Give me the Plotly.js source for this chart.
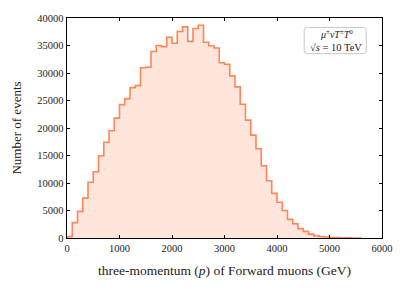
<!DOCTYPE html>
<html>
<head>
<meta charset="utf-8">
<script src="https://cdn.plot.ly/plotly-3.0.1.min.js"></script>
<style>html,body{margin:0;padding:0;background:#fff;}#chart{width:407px;height:291px;}</style>
</head>
<body>
<div id="chart"></div>
<script>
// Histogram bin lower edges (GeV), bin width 100 GeV
var binLow = [0,100,200,300,400,500,600,700,800,900,
  1000,1100,1200,1300,1400,1500,1600,1700,1800,1900,
  2000,2100,2200,2300,2400,2500,2600,2700,2800,2900,
  3000,3100,3200,3300,3400,3500,3600,3700,3800,3900,
  4000,4100,4200,4300,4400,4500,4600,4700,4800,4900,
  5000,5100,5200,5300,5400,5500];
var binWidth = 100;
var counts = [250,2800,4850,7250,10150,12050,14950,17400,19500,21800,
  24250,25350,27350,27700,30950,31050,33900,35000,34800,36500,
  35400,37550,38380,35750,38100,38680,35600,34950,34550,31870,
  31600,29480,27480,24330,21430,18700,16220,13130,10410,8110,
  6500,5000,3390,2580,1700,1200,700,420,280,180,
  100,60,30,15,8,4];
var xTicks = [0,1000,2000,3000,4000,5000,6000];
var yTicks = [0,5000,10000,15000,20000,25000,30000,35000,40000];
var legendLine1 = '<i>μ</i><sup>±</sup><i>νT</i><sup>±</sup><i>T</i><sup>0</sup>';
var legendLine2 = '√<i>s</i> = 10 TeV';
var xTitle = 'three-momentum (<i>p</i>) of Forward muons (GeV)';
var yTitle = 'Number of events';

// step outline: start at baseline, each bin's left edge, closing at last right edge
var sx = [0], sy = [0];
for (var i = 0; i < binLow.length; i++) { sx.push(binLow[i]); sy.push(counts[i]); }
sx.push(binLow[binLow.length-1] + binWidth); sy.push(counts[counts.length-1]);
sx.push(binLow[binLow.length-1] + binWidth); sy.push(0);

var FONT = 'Liberation Serif, DejaVu Serif, serif';
var trace = {
  x: sx, y: sy, type: 'scatter', mode: 'lines',
  line: {shape: 'hv', color: 'rgba(255,127,80,0.95)', width: 1.6},
  fill: 'tozeroy', fillcolor: 'rgba(255,127,80,0.2)',
  hoverinfo: 'skip'
};

// rounded legend box in paper coords
var bx0 = 0.753, bx1 = 0.950, by0 = 0.838, by1 = 0.957, rx = 0.010, ry = 0.014;
var boxPath = 'M ' + (bx0+rx) + ' ' + by1 + ' L ' + (bx1-rx) + ' ' + by1 +
  ' Q ' + bx1 + ' ' + by1 + ' ' + bx1 + ' ' + (by1-ry) +
  ' L ' + bx1 + ' ' + (by0+ry) + ' Q ' + bx1 + ' ' + by0 + ' ' + (bx1-rx) + ' ' + by0 +
  ' L ' + (bx0+rx) + ' ' + by0 + ' Q ' + bx0 + ' ' + by0 + ' ' + bx0 + ' ' + (by0+ry) +
  ' L ' + bx0 + ' ' + (by1-ry) + ' Q ' + bx0 + ' ' + by1 + ' ' + (bx0+rx) + ' ' + by1 + ' Z';

var axisCommon = {
  showgrid: false, zeroline: false, showline: true, linecolor: '#000', linewidth: 1.3,
  mirror: 'allticks', ticks: 'inside', ticklen: 3, tickwidth: 1, tickcolor: '#000',
  tickfont: {family: FONT, size: 10.5, color: '#222'}
};
var layout = {
  width: 407, height: 291,
  margin: {l: 67, r: 25, t: 18, b: 53},
  paper_bgcolor: '#fff', plot_bgcolor: '#fff',
  showlegend: false,
  xaxis: Object.assign({}, axisCommon, {
    range: [0, 6000], tickvals: xTicks, ticktext: xTicks.map(String),
    title: {text: xTitle, font: {family: FONT, size: 13.5, color: '#222'}, standoff: 12}
  }),
  yaxis: Object.assign({}, axisCommon, {
    range: [0, 40000], tickvals: yTicks, ticktext: yTicks.map(String),
    title: {text: yTitle, font: {family: FONT, size: 13, color: '#222'}, standoff: 12}
  }),
  shapes: [{type: 'path', xref: 'paper', yref: 'paper', path: boxPath,
    line: {color: '#c8c8c8', width: 1}, fillcolor: 'rgba(255,255,255,0.85)', layer: 'above'}],
  annotations: [
    {xref: 'paper', yref: 'paper', x: 0.855, y: 0.928, text: legendLine1, showarrow: false,
     xanchor: 'center', yanchor: 'middle', font: {family: FONT, size: 10, color: '#222'}},
    {xref: 'paper', yref: 'paper', x: 0.855, y: 0.866, text: legendLine2, showarrow: false,
     xanchor: 'center', yanchor: 'middle', font: {family: FONT, size: 10.5, color: '#222'}}
  ]
};
Plotly.newPlot('chart', [trace], layout, {displayModeBar: false, staticPlot: true});
</script>
</body>
</html>
